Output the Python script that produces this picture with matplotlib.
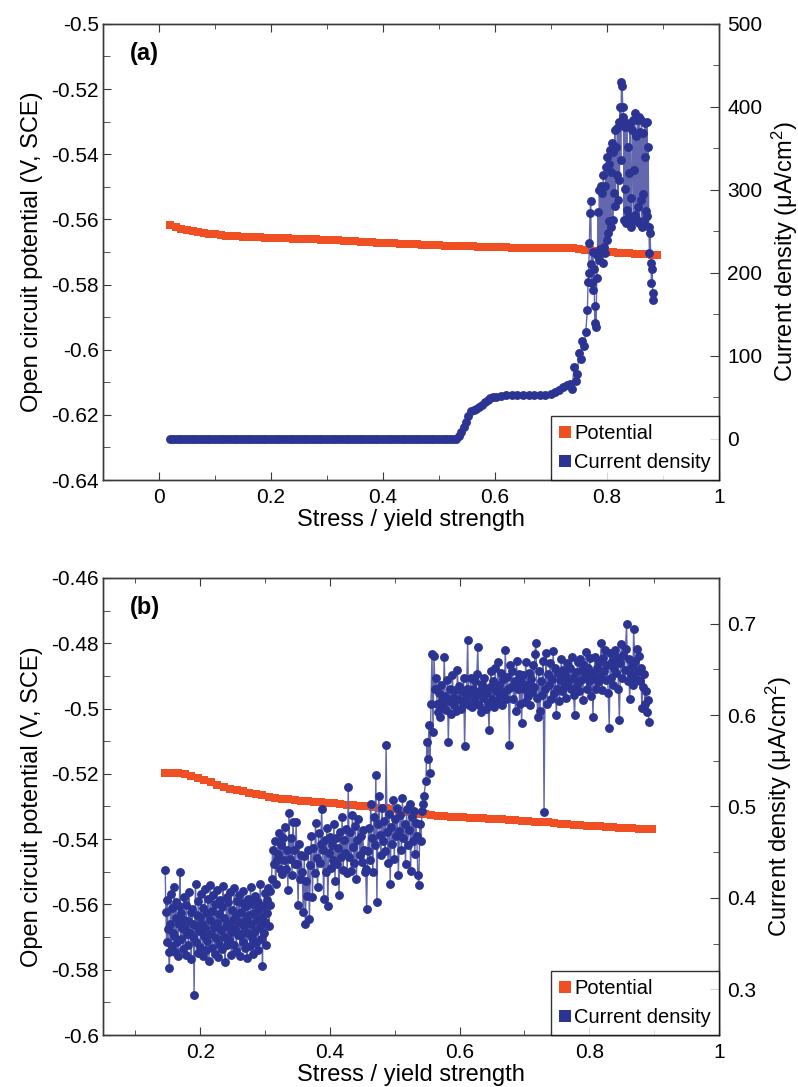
import numpy as np
import matplotlib
matplotlib.use("Agg")
import matplotlib.pyplot as plt
from matplotlib.lines import Line2D
from matplotlib.ticker import MultipleLocator

plt.rcParams['font.family'] = ['Liberation Sans', 'DejaVu Sans']
plt.rcParams['mathtext.fontset'] = 'custom'
plt.rcParams['mathtext.rm'] = 'Liberation Sans'
plt.rcParams['mathtext.it'] = 'Liberation Sans:italic'

ORANGE = '#F04E23'
NAVY = '#2B3492'

# ---------------- panel (a) data ----------------
# open circuit potential, sampled every 0.01 of yield strength from 0.02 to 0.89
pot_a_start, pot_a_end = 0.02, 0.89
pot_a = [
    -0.5618, -0.5623, -0.5628, -0.5632, -0.5636, -0.5639, -0.5642, -0.5644, -0.5646, -0.5648,
    -0.5650, -0.5651, -0.5652, -0.5653, -0.5653, -0.5654, -0.5655, -0.5656, -0.5656, -0.5657,
    -0.5658, -0.5658, -0.5659, -0.5660, -0.5660, -0.5661, -0.5661, -0.5662, -0.5662, -0.5663,
    -0.5664, -0.5665, -0.5666, -0.5667, -0.5668, -0.5669, -0.5670, -0.5671, -0.5672, -0.5673,
    -0.5674, -0.5675, -0.5676, -0.5677, -0.5677, -0.5678, -0.5679, -0.5679, -0.5680, -0.5681,
    -0.5681, -0.5682, -0.5682, -0.5683, -0.5683, -0.5684, -0.5684, -0.5685, -0.5685, -0.5686,
    -0.5686, -0.5687, -0.5687, -0.5687, -0.5688, -0.5688, -0.5688, -0.5689, -0.5689, -0.5689,
    -0.5688, -0.5687, -0.5687, -0.5690, -0.5693, -0.5695, -0.5697, -0.5699, -0.5700, -0.5701,
    -0.5702, -0.5703, -0.5704, -0.5705, -0.5706, -0.5707, -0.5708, -0.5709,
]

# current density: flat baseline up to 0.53, the rise, then the noisy tail
base_a_start, base_a_end, base_a_n = 0.02, 0.53, 103
base_a_level = 0.0
rise_a_x = [
    0.535, 0.540, 0.545, 0.548, 0.552, 0.557, 0.562, 0.567, 0.572, 0.577,
    0.582, 0.587, 0.592, 0.597, 0.602, 0.610, 0.620, 0.630, 0.640, 0.650,
    0.660, 0.670, 0.680, 0.690, 0.700, 0.708, 0.715, 0.722, 0.728, 0.734,
    0.738, 0.741, 0.744, 0.747, 0.750, 0.753, 0.756, 0.759, 0.762,
]
rise_a = [
    3, 8, 14, 20, 27, 33, 34, 36, 38, 41,
    44, 47, 49, 50, 50, 51, 52, 53, 52, 53,
    53, 52, 53, 52, 54, 56, 59, 62, 64, 66,
    60, 86, 70, 78, 103, 96, 118, 112, 128,
]
noisy_a_start, noisy_a_end = 0.765, 0.883
noisy_a = [
    155, 189, 200, 236, 272, 286, 210, 188, 225, 179, 205, 139, 160,
    134, 194, 221, 273, 215, 300, 228, 304, 225, 296, 212, 318, 231, 305, 224, 328, 239,
    340, 248, 331, 262, 348, 255, 322, 356, 264, 345, 296, 372, 281, 352, 318, 374, 288,
    382, 312, 400, 336, 430, 425, 400, 388,
    264, 376, 301, 260, 380, 276, 352, 320, 268, 376, 290, 255, 372, 384, 262, 324, 392,
    270, 365, 264, 384, 279, 388, 260, 370,
    288, 384, 255, 368, 295, 262, 381, 340, 275, 382, 268, 352, 255, 224, 248, 212, 188,
    205, 175, 167,
]

# ---------------- panel (b) data ----------------
pot_b_start, pot_b_end = 0.146, 0.896
pot_b = [
    -0.5197, -0.5197, -0.5198, -0.5201, -0.5206, -0.5212, -0.5219, -0.5226, -0.5234, -0.5240,
    -0.5246, -0.5250, -0.5254, -0.5258, -0.5262, -0.5266, -0.5270, -0.5273, -0.5276, -0.5278,
    -0.5280, -0.5282, -0.5284, -0.5285, -0.5287, -0.5289, -0.5290, -0.5292, -0.5294, -0.5296,
    -0.5298, -0.5300, -0.5302, -0.5304, -0.5306, -0.5309, -0.5313, -0.5317, -0.5320, -0.5322,
    -0.5324, -0.5326, -0.5328, -0.5329, -0.5331, -0.5332, -0.5333, -0.5334, -0.5335, -0.5336,
    -0.5337, -0.5338, -0.5339, -0.5341, -0.5342, -0.5343, -0.5345, -0.5347, -0.5348, -0.5349,
    -0.5351, -0.5353, -0.5354, -0.5356, -0.5357, -0.5359, -0.5360, -0.5361, -0.5363, -0.5364,
    -0.5365, -0.5366, -0.5367, -0.5368, -0.5368, -0.5368,
]

# current density in three stretches of stress
seg1_start, seg1_end = 0.146, 0.308
cur_b1 = [
    0.430, 0.385, 0.352, 0.398, 0.366, 0.341, 0.323, 0.371, 0.404, 0.347,
    0.389, 0.362, 0.358, 0.412, 0.341, 0.378, 0.395, 0.352, 0.336, 0.372,
    0.391, 0.428, 0.355, 0.383, 0.367, 0.344, 0.401, 0.376, 0.366, 0.338,
    0.392, 0.360, 0.375, 0.349, 0.407, 0.362, 0.385, 0.333, 0.388, 0.357,
    0.372, 0.294, 0.370, 0.415, 0.352, 0.381, 0.340, 0.397, 0.364, 0.379,
    0.346, 0.404, 0.372, 0.337, 0.389, 0.358, 0.410, 0.367, 0.343, 0.384,
    0.353, 0.399, 0.331, 0.376, 0.414, 0.361, 0.386, 0.345, 0.403, 0.368,
    0.339, 0.393, 0.356, 0.409, 0.373, 0.335, 0.382, 0.350, 0.398, 0.365,
    0.344, 0.390, 0.413, 0.357, 0.378, 0.330, 0.369, 0.401, 0.348, 0.395,
    0.371, 0.354, 0.406, 0.363, 0.338, 0.387, 0.376, 0.349, 0.411, 0.366,
    0.382, 0.342, 0.397, 0.359, 0.374, 0.403, 0.336, 0.385, 0.361, 0.394,
    0.352, 0.408, 0.369, 0.345, 0.391, 0.377, 0.334, 0.399, 0.362, 0.381,
    0.347, 0.412, 0.371, 0.356, 0.393, 0.339, 0.384, 0.364, 0.402, 0.351,
    0.376, 0.396, 0.343, 0.388, 0.368, 0.415, 0.355, 0.379, 0.326, 0.391,
    0.362, 0.405, 0.374, 0.348, 0.398, 0.383, 0.411, 0.369, 0.392, 0.408,
]
seg2_start, seg2_end = 0.310, 0.545
cur_b2 = [
    0.421, 0.452, 0.437, 0.462, 0.415, 0.441, 0.448, 0.471, 0.432, 0.458,
    0.426, 0.466, 0.441, 0.478, 0.432, 0.452, 0.409, 0.493, 0.443, 0.466,
    0.425, 0.483, 0.452, 0.437, 0.483, 0.437, 0.392, 0.459, 0.421, 0.447,
    0.428, 0.385, 0.446, 0.371, 0.418, 0.402, 0.452, 0.377, 0.436, 0.468,
    0.401, 0.455, 0.427, 0.482, 0.444, 0.412, 0.471, 0.438, 0.459, 0.497,
    0.452, 0.399, 0.463, 0.428, 0.476, 0.391, 0.449, 0.467, 0.433, 0.458,
    0.442, 0.481, 0.419, 0.466, 0.437, 0.455, 0.403, 0.472, 0.445, 0.488,
    0.431, 0.463, 0.449, 0.475, 0.427, 0.521, 0.445, 0.472, 0.429, 0.491,
    0.456, 0.438, 0.479, 0.421, 0.463, 0.486, 0.447, 0.468, 0.439, 0.474,
    0.452, 0.428, 0.432, 0.388, 0.451, 0.476, 0.442, 0.503, 0.465, 0.428,
    0.489, 0.458, 0.535, 0.395, 0.481, 0.512, 0.469, 0.447, 0.498, 0.462,
    0.484, 0.451, 0.567, 0.472, 0.438, 0.492, 0.415, 0.478, 0.459, 0.507,
    0.443, 0.486, 0.468, 0.498, 0.425, 0.473, 0.491, 0.452, 0.509, 0.466,
    0.481, 0.437, 0.497, 0.458, 0.474, 0.503, 0.429, 0.488, 0.462, 0.495,
    0.448, 0.482, 0.468, 0.425, 0.414, 0.481, 0.462, 0.495, 0.503, 0.512,
]
seg3_start, seg3_end = 0.548, 0.892
cur_b3 = [
    0.528, 0.571, 0.552, 0.589, 0.537, 0.612, 0.667, 0.581, 0.665, 0.628,
    0.641, 0.612, 0.603, 0.624, 0.598, 0.633, 0.617, 0.609, 0.663, 0.621,
    0.606, 0.638, 0.571, 0.615, 0.629, 0.601, 0.644, 0.619, 0.611, 0.627,
    0.604, 0.649, 0.618, 0.632, 0.607, 0.626, 0.613, 0.641, 0.566, 0.619,
    0.628, 0.682, 0.611, 0.623, 0.641, 0.609, 0.628, 0.615, 0.637, 0.622,
    0.645, 0.674, 0.611, 0.626, 0.603, 0.634, 0.619, 0.641, 0.628, 0.607,
    0.624, 0.613, 0.584, 0.631, 0.648, 0.618, 0.637, 0.609, 0.652, 0.626,
    0.614, 0.658, 0.633, 0.621, 0.646, 0.611, 0.639, 0.625, 0.671, 0.618,
    0.642, 0.629, 0.567, 0.655, 0.631, 0.648, 0.618, 0.637, 0.604, 0.659,
    0.628, 0.645, 0.612, 0.636, 0.591, 0.644, 0.629, 0.614, 0.658, 0.633,
    0.621, 0.646, 0.611, 0.639, 0.625, 0.655, 0.631, 0.667, 0.679, 0.619,
    0.598, 0.648, 0.604, 0.637, 0.622, 0.659, 0.494, 0.628, 0.668, 0.612,
    0.645, 0.633, 0.657, 0.618, 0.639, 0.670, 0.624, 0.651, 0.600, 0.628,
    0.646, 0.615, 0.638, 0.661, 0.626, 0.649, 0.631, 0.644, 0.619, 0.657,
    0.636, 0.652, 0.629, 0.664, 0.641, 0.622, 0.600, 0.647, 0.633, 0.658,
    0.626, 0.661, 0.638, 0.649, 0.616, 0.655, 0.643, 0.669, 0.628, 0.651,
    0.637, 0.662, 0.621, 0.646, 0.598, 0.641, 0.664, 0.629, 0.652, 0.636,
    0.658, 0.643, 0.679, 0.627, 0.662, 0.648, 0.671, 0.638, 0.655, 0.624,
    0.586, 0.668, 0.641, 0.659, 0.633, 0.652, 0.671, 0.646, 0.663, 0.628,
    0.595, 0.657, 0.678, 0.641, 0.666, 0.649, 0.672, 0.700, 0.637, 0.661,
    0.618, 0.645, 0.654, 0.633, 0.694, 0.659, 0.640, 0.672, 0.648, 0.665,
    0.637, 0.652, 0.608, 0.631, 0.645, 0.612, 0.626, 0.603, 0.617, 0.592,
]

# ---------------- assemble series ----------------
pot_a_x = np.linspace(pot_a_start, pot_a_end, len(pot_a))
cur_a_x = np.concatenate([
    np.linspace(base_a_start, base_a_end, base_a_n),
    rise_a_x,
    np.linspace(noisy_a_start, noisy_a_end, len(noisy_a)),
])
cur_a = np.concatenate([np.full(base_a_n, base_a_level), rise_a, noisy_a])

pot_b_x = np.linspace(pot_b_start, pot_b_end, len(pot_b))
cur_b_x = np.concatenate([
    np.linspace(seg1_start, seg1_end, len(cur_b1)),
    np.linspace(seg2_start, seg2_end, len(cur_b2)),
    np.linspace(seg3_start, seg3_end, len(cur_b3)),
])
cur_b = np.concatenate([cur_b1, cur_b2, cur_b3])


def style_axes(ax, ax2):
    for a in (ax, ax2):
        for s in a.spines.values():
            s.set_color('#3a3a3a')
            s.set_linewidth(1.0)
    ax.tick_params(axis='x', which='both', direction='in', top=True, bottom=True,
                   labelsize=15, pad=6, color='#3a3a3a')
    ax.tick_params(axis='x', which='major', length=6)
    ax.tick_params(axis='x', which='minor', length=3.5)
    ax.tick_params(axis='y', which='both', direction='in', left=True, right=False,
                   labelsize=15, pad=3, color='#3a3a3a')
    ax.tick_params(axis='y', which='major', length=5.5)
    ax.tick_params(axis='y', which='minor', length=5)
    ax2.tick_params(axis='y', which='both', direction='in', right=True, left=False,
                    labelsize=15, pad=6, color='#3a3a3a')
    ax2.tick_params(axis='y', which='major', length=6.5)
    ax2.tick_params(axis='y', which='minor', length=4.5)


def draw_panel(rect, tag, px, py, cx, cy, xlim, ylim, y2lim,
               yticks, ymin, y2major, y2minor, y2fmt):
    ax = fig.add_axes(rect)
    ax2 = ax.twinx()
    ax.plot(px, py, ls='none', marker='s', ms=6.0, color=ORANGE, mec=ORANGE, mew=0)
    # thin connecting line under the round markers
    ax2.plot(cx, cy, ls='-', lw=1.0, color='#6367ad', marker='o', ms=6.4,
             mfc=NAVY, mec=NAVY, mew=0)
    ax.set_xlim(*xlim)
    ax.set_ylim(*ylim)
    ax2.set_ylim(*y2lim)
    ax.xaxis.set_major_locator(MultipleLocator(0.2))
    ax.xaxis.set_minor_locator(MultipleLocator(0.1))
    ax.set_yticks(yticks)
    ax.set_yticklabels([f'{v:g}' for v in yticks])
    ax.yaxis.set_minor_locator(MultipleLocator(ymin))
    ax2.yaxis.set_major_locator(MultipleLocator(y2major))
    ax2.yaxis.set_minor_locator(MultipleLocator(y2minor))
    ax2.set_yticklabels([y2fmt(v) for v in ax2.get_yticks()])
    ax.set_xticklabels([f'{v:g}' for v in ax.get_xticks()])
    style_axes(ax, ax2)
    ax.set_xlabel('Stress / yield strength', fontsize=17, labelpad=1)
    ax.set_ylabel('Open circuit potential (V, SCE)', fontsize=17, labelpad=6)
    ax2.set_ylabel(r'Current density ($\mathrm{\mu A/cm^2}$)', fontsize=17, labelpad=5)
    ax.text(0.044, 0.935, tag, transform=ax.transAxes, fontsize=17,
            fontweight='bold', va='center', ha='left')
    handles = [
        Line2D([], [], ls='none', marker='s', ms=9, color=ORANGE, mew=0),
        Line2D([], [], ls='none', marker='s', ms=9, color=NAVY, mew=0),
    ]
    leg = ax2.legend(handles, ['Potential', 'Current density'], loc='lower right',
                     borderaxespad=0, frameon=True, fancybox=False, fontsize=14.5,
                     handlelength=0.6, handletextpad=0.15, borderpad=0.4,
                     labelspacing=0.5)
    leg.get_frame().set_edgecolor('black')
    leg.get_frame().set_linewidth(1.0)
    return ax, ax2


fig = plt.figure(figsize=(7.98, 10.87), dpi=100)

draw_panel([0.129, 0.5584, 0.772, 0.4196], '(a)',
           pot_a_x, pot_a, cur_a_x, cur_a,
           (-0.1, 1.0), (-0.64, -0.5), (-50, 500),
           [-0.64, -0.62, -0.6, -0.58, -0.56, -0.54, -0.52, -0.5], 0.01,
           100, 50, lambda v: f'{v:.0f}')

draw_panel([0.129, 0.0478, 0.772, 0.4205], '(b)',
           pot_b_x, pot_b, cur_b_x, cur_b,
           (0.05, 1.0), (-0.6, -0.46), (0.25, 0.75),
           [-0.6, -0.58, -0.56, -0.54, -0.52, -0.5, -0.48, -0.46], 0.01,
           0.1, 0.05, lambda v: f'{v:g}')

fig.savefig('out.png', dpi=100)
